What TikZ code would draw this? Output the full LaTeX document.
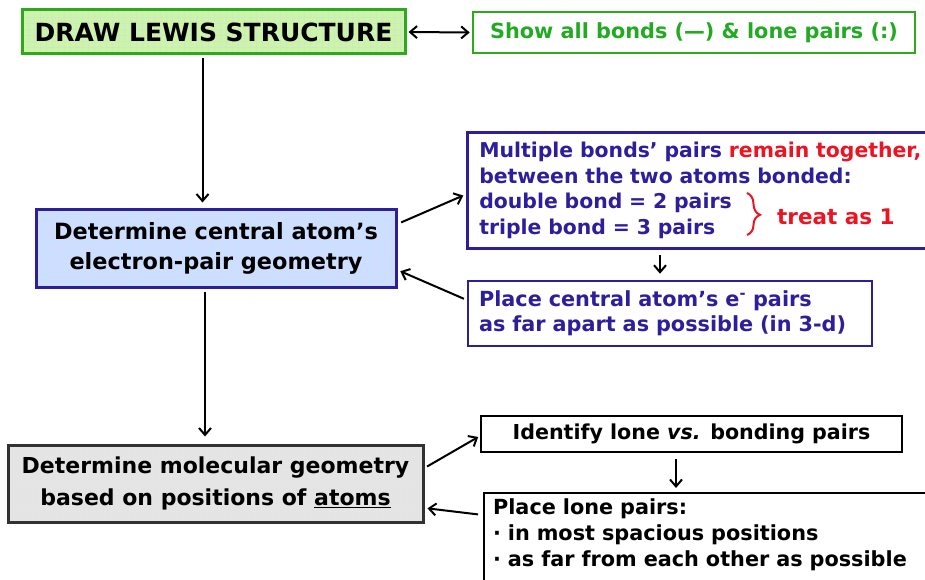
\documentclass[tikz,border=0pt]{standalone}
\usepackage{fontspec}
\setmainfont{DejaVu Sans}
\usepackage{tikz}
\usetikzlibrary{positioning,arrows.meta,decorations.pathreplacing}

\definecolor{lewisgreen}{RGB}{45,170,25}
\definecolor{lewisfill}{RGB}{205,245,165}
\definecolor{showgreen}{RGB}{35,170,35}
\definecolor{indigo}{RGB}{45,30,155}
\definecolor{centralfill}{RGB}{200,225,255}
\definecolor{chemred}{RGB}{235,20,35}
\definecolor{molfill}{RGB}{228,228,228}
\definecolor{moledge}{RGB}{50,50,50}

\tikzset{
  gridfill/.style={path picture={\draw[#1, line width=0.4pt]
      (path picture bounding box.south west) grid[step=6pt]
      (path picture bounding box.north east);}},
  box/.style={draw, line width=2.6pt, inner sep=0pt, font=\bfseries},
  arr/.style={-{Straight Barb[length=7pt,width=12pt]}, line width=2pt},
  darr/.style={{Straight Barb[length=7pt,width=12pt]}-{Straight Barb[length=7pt,width=12pt]}, line width=2pt},
}

\begin{document}
\begin{tikzpicture}[x=1pt, y=-1pt]
      \clip (0,0) rectangle (925,580);
      \fill[white] (0,0) rectangle (925,580);

      % left column
      \node[box, draw=lewisgreen, fill=lewisfill, gridfill=lewisgreen!25, line width=3pt,
            minimum width=383, minimum height=44, font=\bfseries\fontsize{25}{30}\selectfont]
            (lewis) at (213.5,32) {DRAW LEWIS STRUCTURE};
      \node[box, draw=indigo, fill=centralfill, gridfill=blue!15, line width=3pt,
            minimum width=360, minimum height=78, align=center,
            font=\bfseries\fontsize{22.4}{30}\selectfont]
            (central) at (216,248) {Determine central atom's\\electron-pair geometry};
      \node[box, draw=moledge, fill=molfill, gridfill=black!10, line width=3pt,
            minimum width=415, minimum height=77, align=center,
            font=\bfseries\fontsize{22}{32}\selectfont]
            (molecular) at (215.5,483.5) {Determine molecular geometry\\based on positions of \underline{atoms}};

      % right column
      \node[box, draw=lewisgreen, text=showgreen, minimum width=442, minimum height=41,
            font=\bfseries\fontsize{20.8}{24}\selectfont]
            (show) at (694,32.5) {Show all bonds (—) \& lone pairs (:)};
      \node[box, draw=indigo, text=indigo, anchor=north west, minimum width=470,
            minimum height=116, text width=450, inner xsep=12pt, align=left,
            font=\bfseries\fontsize{20.4}{25.5}\selectfont]
            (multiple) at (466,131) {Multiple bonds' pairs \textcolor{chemred}{remain together,}\\
            between the two atoms bonded:\\double bond = 2 pairs\\triple bond = 3 pairs};
      \node[text=chemred, anchor=west, inner sep=0pt, font=\bfseries\fontsize{21.5}{24}\selectfont]
            (treat) at (777,217) {treat as 1};
      \node[box, draw=indigo, text=indigo, minimum width=404, minimum height=65,
            text width=382, align=left, font=\bfseries\fontsize{20.8}{25.5}\selectfont]
            (place) at (670,313.5) {Place central atom's e\textsuperscript{-} pairs\\as far apart as possible (in 3-d)};
      \node[box, minimum width=421, minimum height=36, line width=2.2pt,
            font=\bfseries\fontsize{20.6}{24}\selectfont]
            (identify) at (691.5,434) {Identify lone \textit{vs.} bonding pairs};
      \node[box, anchor=north west, minimum width=460, minimum height=100, text width=445,
            line width=2.2pt, inner xsep=9pt, inner ysep=6pt, align=left,
            font=\bfseries\fontsize{20.8}{26}\selectfont]
            (lone) at (483,492) {Place lone pairs:\\· in most spacious positions\\· as far from each other as possible\\\strut};

      % brace
      \draw[chemred, line width=2pt, decorate, decoration={brace, amplitude=13pt, aspect=0.52}]
            ([xshift=-30pt, yshift=24pt]treat.west) -- ([xshift=-30pt, yshift=-18pt]treat.west);

      % connectors
      \draw[darr, shorten <=2pt, shorten >=2pt] (lewis.east) -- (show.west);
      \draw[arr, shorten <=3pt, shorten >=5pt] ([xshift=-11pt]lewis.south) -- ([xshift=-11pt]lewis.south |- central.north);
      \draw[arr, shorten <=4pt, shorten >=3pt] ([yshift=24pt]central.east) -- ([yshift=-4pt]multiple.west);
      \draw[arr, shorten <=3pt, shorten >=3pt] ([yshift=13.5pt]place.west) -- ([yshift=-22pt]central.east);
      \draw[arr, shorten <=5pt, shorten >=6pt] ([xshift=-10pt]place.north |- multiple.south) -- ([xshift=-10pt]place.north);
      \draw[arr, shorten <=3pt, shorten >=7pt] ([xshift=-11pt]central.south) -- ([xshift=-11pt]central.south |- molecular.north);
      \draw[arr, shorten <=3pt, shorten >=2pt] ([yshift=15.5pt]molecular.east) -- ([yshift=-2pt]identify.west);
      \draw[arr, shorten <=6pt, shorten >=4pt] ([xshift=-15.5pt]identify.south) -- ([xshift=-15.5pt]identify.south |- lone.north);
      \draw[arr, shorten <=5pt, shorten >=3pt] ([yshift=-23pt]lone.north west) -- ([yshift=-24.5pt]molecular.east);
\end{tikzpicture}
\end{document}
